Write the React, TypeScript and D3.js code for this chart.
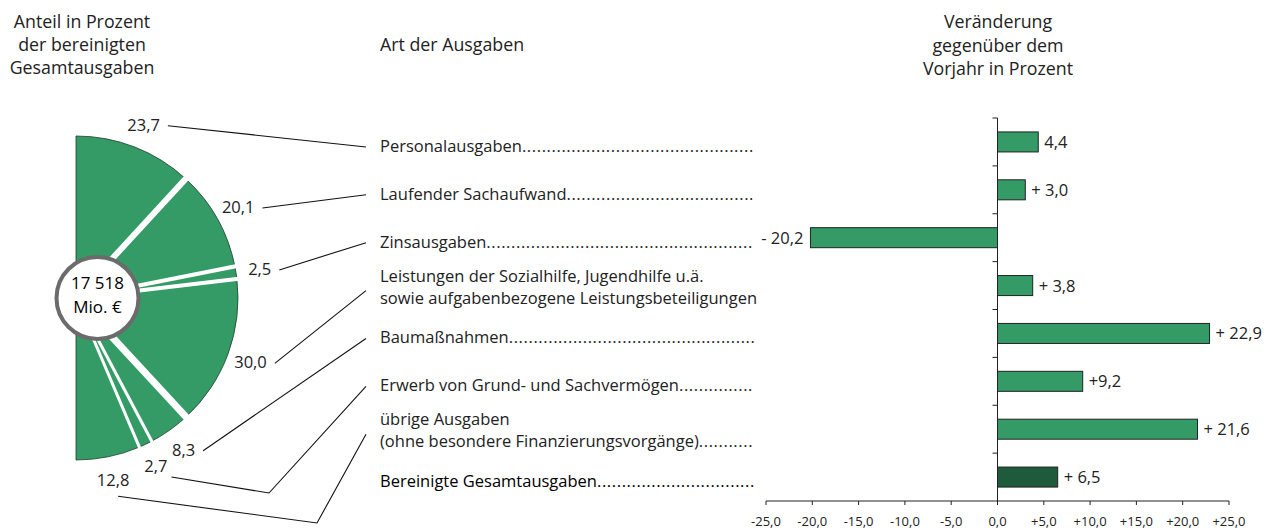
import React, { useEffect, useRef } from 'react';
import * as d3 from 'd3';

// ---------- data ----------
const categoryLines: string[][] = [
  ['Personalausgaben'],
  ['Laufender Sachaufwand'],
  ['Zinsausgaben'],
  ['Leistungen der Sozialhilfe, Jugendhilfe u.ä.', 'sowie aufgabenbezogene Leistungsbeteiligungen'],
  ['Baumaßnahmen'],
  ['Erwerb von Grund- und Sachvermögen'],
  ['übrige Ausgaben', '(ohne besondere Finanzierungsvorgänge)'],
  ['Bereinigte Gesamtausgaben'],
];
const categoryDotted = [true, true, true, false, true, true, true, true];

const shareValues = [23.7, 20.1, 2.5, 30.0, 8.3, 2.7, 12.8];
const shareLabels = ['23,7', '20,1', '2,5', '30,0', '8,3', '2,7', '12,8'];

const changeValues = [4.4, 3.0, -20.2, 3.8, 22.9, 9.2, 21.6, 6.5];
const changeLabels = ['4,4', '+ 3,0', '- 20,2', '+ 3,8', '+ 22,9', '+9,2', '+ 21,6', '+ 6,5'];

const xTicks = [-25, -20, -15, -10, -5, 0, 5, 10, 15, 20, 25];
const xTickLabels = ['-25,0', '-20,0', '-15,0', '-10,0', '-5,0', '0,0', '+5,0', '+10,0', '+15,0', '+20,0', '+25,0'];

const totalLines = ['17 518', 'Mio. €'];
const headerLeft = ['Anteil in Prozent', 'der bereinigten', 'Gesamtausgaben'];
const headerMid = ['Art der Ausgaben'];
const headerRight = ['Veränderung', 'gegenüber dem', 'Vorjahr in Prozent'];

// ---------- styles ----------
const FONT = "'Open Sans', 'Noto Sans', sans-serif";
const GREEN = '#349a66';
const DARK_GREEN = '#1e5a3c';
const TEXT = '#222';
const FS = 16.5;

export default function App() {
  const ref = useRef<SVGSVGElement | null>(null);

  useEffect(() => {
    document.body.style.margin = '0';
    const svg = d3.select(ref.current);
    svg.selectAll('*').remove();
    const root = svg.append('g').attr('font-family', FONT).attr('fill', TEXT);

    // headers
    const hdr = (lines: string[], x: number, y0: number, anchor: string, dy: number) => {
      lines.forEach((l, i) =>
        root.append('text').attr('x', x).attr('y', y0 + i * dy).attr('text-anchor', anchor)
          .attr('font-size', 17.8).text(l));
    };
    hdr(headerLeft, 82, 28, 'middle', 23);
    hdr(headerMid, 380, 51, 'start', 23);
    hdr(headerRight, 998, 28, 'middle', 23.5);

    // ---------- bar chart ----------
    const x = d3.scaleLinear().domain([-25, 25]).range([766, 1229]);
    const yTop = 118, yBot = 501;
    const y = d3.scaleBand<number>().domain(d3.range(changeValues.length))
      .range([yTop, yBot]).paddingInner(0.582).paddingOuter(0.291);
    const step = y.step();
    const bc = (i: number) => (y(i) as number) + y.bandwidth() / 2;

    const bars = root.append('g');
    bars.selectAll('rect').data(changeValues).join('rect')
      .attr('x', (d) => x(Math.min(0, d)))
      .attr('y', (_, i) => y(i) as number)
      .attr('width', (d) => Math.abs(x(d) - x(0)))
      .attr('height', y.bandwidth())
      .attr('fill', (_, i) => (i === changeValues.length - 1 ? DARK_GREEN : GREEN))
      .attr('stroke', '#222').attr('stroke-width', 1);

    bars.selectAll('text.val').data(changeValues).join('text').attr('class', 'val')
      .attr('x', (d) => (d >= 0 ? x(d) + 6 : x(d) - 7))
      .attr('y', (_, i) => bc(i) + 6)
      .attr('text-anchor', (d) => (d >= 0 ? 'start' : 'end'))
      .attr('font-size', FS)
      .text((_, i) => changeLabels[i]);

    // axes
    const ax = root.append('g').attr('stroke', '#222').attr('stroke-width', 1).attr('fill', 'none');
    ax.append('line').attr('x1', x(0)).attr('x2', x(0)).attr('y1', yTop).attr('y2', yBot);
    ax.append('line').attr('x1', x(-25)).attr('x2', x(25)).attr('y1', yBot).attr('y2', yBot);
    d3.range(changeValues.length).forEach((i) => {
      const yy = yTop + step * i;
      ax.append('line').attr('x1', x(0) - 5).attr('x2', x(0)).attr('y1', yy).attr('y2', yy);
    });
    xTicks.forEach((t) => {
      ax.append('line').attr('x1', x(t)).attr('x2', x(t)).attr('y1', yBot).attr('y2', yBot + 4);
    });
    root.append('g').selectAll('text').data(xTicks).join('text')
      .attr('x', (d) => x(d)).attr('y', yBot + 25).attr('text-anchor', 'middle')
      .attr('font-size', 13)
      .text((_, i) => xTickLabels[i]);

    // ---------- category labels ----------
    const labX = 380, dotEnd = 757;
    const cat = root.append('g').attr('font-size', FS);
    categoryLines.forEach((lines, i) => {
      const c = bc(i);
      const isTotal = i === categoryLines.length - 1;
      lines.forEach((l, j) => {
        const yy = lines.length === 1 ? c + 10 : c - 4 + j * 22;
        const t = cat.append('text').attr('x', labX).attr('y', yy)
          .attr('fill', isTotal ? '#000' : TEXT).text(l);
        if (j === lines.length - 1 && categoryDotted[i]) {
          const node = t.node() as SVGTextElement;
          let dots = '';
          const sp = t.append('tspan').attr('letter-spacing', 0.6);
          while (true) {
            sp.text(dots + '.');
            if (labX + node.getComputedTextLength() > dotEnd) break;
            dots += '.';
          }
          sp.text(dots);
        }
      });
    });

    // ---------- half pie ----------
    const cx = 76, cy = 298, R = 162;
    const pie = d3.pie<number>().sort(null).value((d) => d).startAngle(0).endAngle(Math.PI);
    const arcs = pie(shareValues);
    const arc = d3.arc<d3.PieArcDatum<number>>().innerRadius(0).outerRadius(R);
    const pg = root.append('g').attr('transform', `translate(${cx},${cy})`);
    pg.selectAll('path').data(arcs).join('path')
      .attr('d', arc as any).attr('fill', GREEN).attr('stroke', '#1f3d2c').attr('stroke-width', 0.8);
    const gapW = [6, 4, 4, 7, 3, 3];
    arcs.slice(0, -1).forEach((a, i) => {
      const ang = a.endAngle;
      pg.append('line').attr('x1', 0).attr('y1', 0)
        .attr('x2', Math.sin(ang) * (R + 6)).attr('y2', -Math.cos(ang) * (R + 6))
        .attr('stroke', '#fff').attr('stroke-width', gapW[i]);
    });

    // center circle
    const ccx = 97.5;
    root.append('circle').attr('cx', ccx).attr('cy', cy).attr('r', 41)
      .attr('fill', '#fff').attr('stroke', '#6b6b6b').attr('stroke-width', 4);
    totalLines.forEach((l, i) =>
      root.append('text').attr('x', ccx).attr('y', cy - 9 + i * 24).attr('text-anchor', 'middle')
        .attr('font-size', 17).attr('fill', '#000').text(l));

    // share labels + leader lines
    const labR = 186;
    const lg = root.append('g');
    arcs.forEach((a, i) => {
      const mid = (a.startAngle + a.endAngle) / 2;
      const lx = cx + Math.sin(mid) * labR;
      const ly = cy - Math.cos(mid) * labR;
      const t = lg.append('text').attr('x', lx).attr('y', ly + 6).attr('text-anchor', 'middle')
        .attr('font-size', FS).text(shareLabels[i]);
      const bb = (t.node() as SVGTextElement).getBBox();
      const ex = 366, ey = bc(i) + 5;
      let pts: [number, number][];
      if (i === arcs.length - 2) {
        const sx = bb.x + bb.width + 4, sy = ly + 11;
        pts = [[sx, sy], [269, yBot - 8], [ex, ey]];
      } else if (i === arcs.length - 1) {
        const sx = lx + 5, sy = ly + 16;
        pts = [[sx, sy], [317, yBot + 22], [ex, ey]];
      } else {
        pts = [[bb.x + bb.width + 8, ly + 1], [ex, ey]];
      }
      lg.append('path').attr('d', d3.line()(pts) as string)
        .attr('fill', 'none').attr('stroke', '#111').attr('stroke-width', 1.1);
    });
  }, []);

  return <svg ref={ref} width={1266} height={531} style={{ display: 'block' }} />;
}
